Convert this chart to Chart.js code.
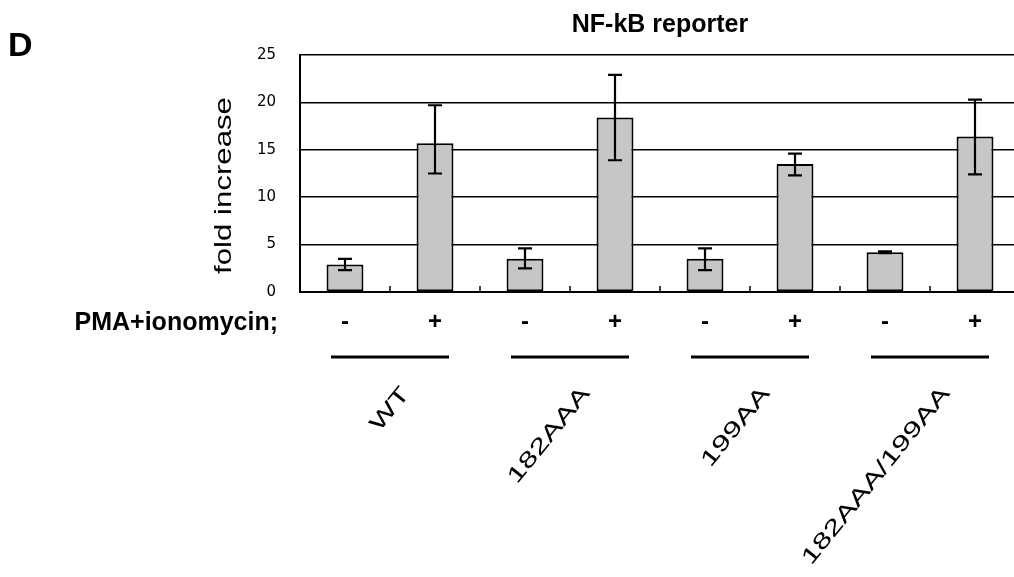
<!DOCTYPE html>
<html>
<head>
<meta charset="utf-8">
<script src="https://cdn.jsdelivr.net/npm/chart.js@4"></script>
<style>
html, body { margin: 0; padding: 0; background: #fff; overflow: hidden; }
</style>
</head>
<body>
<canvas id="canvas" width="1030" height="577"></canvas>
<script>
// values
var categories = ['-', '+', '-', '+', '-', '+', '-', '+'];
var groups = ['WT', '182AAA', '199AA', '182AAA/199AA'];
var foldIncrease = [2.9, 15.7, 3.5, 18.4, 3.5, 13.5, 4.2, 16.4];
var errUpper = [3.5, 19.7, 4.6, 22.9, 4.6, 14.6, 4.3, 20.3];
var errLower = [2.3, 12.5, 2.5, 13.9, 2.3, 12.3, 4.1, 12.4];
var yTicks = [0, 5, 10, 15, 20, 25];

var FONT = '"Liberation Sans", Arial, Helvetica, sans-serif';

var extras = {
  id: 'extras',
  afterDatasetsDraw: function (chart) {
    var ctx = chart.ctx;
    var x = chart.scales.x, y = chart.scales.y;
    var area = chart.chartArea;
    ctx.save();
    ctx.strokeStyle = '#000';

    // error bars
    ctx.lineWidth = 2.2;
    for (var i = 0; i < foldIncrease.length; i++) {
      var cx = x.getPixelForValue(i);
      var top = y.getPixelForValue(errUpper[i]);
      var bot = y.getPixelForValue(errLower[i]);
      ctx.beginPath();
      ctx.moveTo(cx, top); ctx.lineTo(cx, bot);
      ctx.moveTo(cx - 7, top); ctx.lineTo(cx + 7, top);
      ctx.moveTo(cx - 7, bot); ctx.lineTo(cx + 7, bot);
      ctx.stroke();
    }

    // little inward ticks between categories
    ctx.lineWidth = 1.5;
    var half = (x.getPixelForValue(1) - x.getPixelForValue(0)) / 2;
    for (var j = 0; j < categories.length - 1; j++) {
      var tx = x.getPixelForValue(j) + half;
      ctx.beginPath();
      ctx.moveTo(tx, area.bottom);
      ctx.lineTo(tx, area.bottom - 6);
      ctx.stroke();
    }
    ctx.restore();
  },
  afterDraw: function (chart) {
    var ctx = chart.ctx;
    var x = chart.scales.x;
    var area = chart.chartArea;
    ctx.save();
    ctx.fillStyle = '#000';
    ctx.strokeStyle = '#000';

    // panel letter and title
    ctx.font = 'bold 34px ' + FONT;
    ctx.textAlign = 'left';
    ctx.textBaseline = 'alphabetic';
    ctx.fillText('D', 8, 56);
    ctx.font = 'bold 25px ' + FONT;
    ctx.textAlign = 'center';
    ctx.fillText('NF-kB reporter', (area.left + area.right) / 2, 32);

    // y axis title, drawn stretched like the scan
    ctx.save();
    ctx.translate(area.left - 76, (area.top + area.bottom) / 2 + 12);
    ctx.rotate(-Math.PI / 2);
    ctx.scale(1.3, 1);
    ctx.font = '24px ' + FONT;
    ctx.textAlign = 'center';
    ctx.textBaseline = 'middle';
    ctx.fillText('fold increase', 0, 0);
    ctx.restore();

    // treatment row label
    ctx.font = 'bold 25px ' + FONT;
    ctx.textAlign = 'right';
    ctx.fillText('PMA+ionomycin;', 278, 330);

    // group lines and rotated group names
    for (var g = 0; g < groups.length; g++) {
      var gc = (x.getPixelForValue(2 * g) + x.getPixelForValue(2 * g + 1)) / 2;
      ctx.lineWidth = 3;
      ctx.beginPath();
      ctx.moveTo(gc - 59, 357);
      ctx.lineTo(gc + 59, 357);
      ctx.stroke();

      ctx.save();
      ctx.translate(gc + 16, 390);
      ctx.rotate(-51 * Math.PI / 180);
      ctx.scale(1.45, 1);
      ctx.font = '22px ' + FONT;
      ctx.textAlign = 'right';
      ctx.textBaseline = 'middle';
      ctx.fillText(groups[g], 0, 0);
      ctx.restore();
    }
    ctx.restore();
  }
};

var ctx = document.getElementById('canvas').getContext('2d');
var myChart = new Chart(ctx, {
  type: 'bar',
  data: {
    labels: categories,
    datasets: [{
      label: 'fold increase',
      data: foldIncrease,
      backgroundColor: '#c6c6c6',
      borderColor: '#000',
      borderWidth: 2,
      borderSkipped: false,
      barPercentage: 0.41,
      categoryPercentage: 1
    }]
  },
  options: {
    responsive: false,
    animation: false,
    layout: { padding: { top: 55, right: 10, left: 0, bottom: 0 } },
    plugins: {
      legend: { display: false },
      title: { display: false },
      tooltip: { enabled: false }
    },
    scales: {
      x: {
        offset: true,
        grid: { display: false, drawTicks: false },
        border: { display: true, color: '#000', width: 2 },
        ticks: {
          color: '#000',
          padding: 16,
          maxRotation: 0,
          font: { family: FONT, size: 24, weight: 'bold' }
        },
        afterFit: function (scale) { scale.height = 285; }
      },
      y: {
        min: 0,
        max: 25,
        grid: { color: '#000', lineWidth: 1.5, drawTicks: false },
        border: { display: true, color: '#000', width: 2 },
        afterBuildTicks: function (scale) {
          scale.ticks = yTicks.map(function (v) { return { value: v }; });
        },
        ticks: {
          color: '#000',
          padding: 24,
          font: { family: '"DejaVu Sans", sans-serif', size: 15 }
        },
        title: { display: false },
        afterFit: function (scale) { scale.width = 300; }
      }
    }
  },
  plugins: [extras]
});
</script>
</body>
</html>
